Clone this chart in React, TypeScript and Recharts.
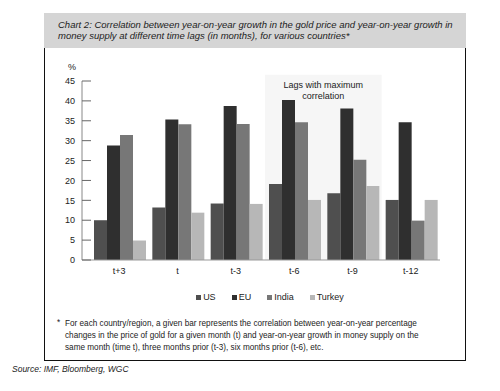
import React from "react";
import {
  BarChart,
  Bar,
  XAxis,
  YAxis,
  Legend,
  ReferenceArea,
} from "recharts";

// lags (months) shown on the x axis
const lags = ["t+3", "t", "t-3", "t-6", "t-9", "t-12"];

// correlation in %
const us = [10, 13.2, 14.2, 19.1, 16.8, 15.1];
const eu = [28.8, 35.3, 38.7, 40.2, 38.1, 34.6];
const india = [31.4, 34.1, 34.2, 34.6, 25.2, 9.9];
const turkey = [4.9, 11.9, 14.1, 15.1, 18.6, 15.1];

const yTicks = [0, 5, 10, 15, 20, 25, 30, 35, 40, 45];

const series = [
  { key: "US", values: us, color: "#4f4f4f" },
  { key: "EU", values: eu, color: "#2f2f2f" },
  { key: "India", values: india, color: "#777777" },
  { key: "Turkey", values: turkey, color: "#b7b7b7" },
];

const data = lags.map((lag, i) => ({
  lag,
  US: us[i],
  EU: eu[i],
  India: india[i],
  Turkey: turkey[i],
}));

const font = "'Liberation Sans', Arial, sans-serif";

function LegendRow() {
  return (
    <div style={{ display: "flex", justifyContent: "center", fontSize: 9, color: "#222", fontFamily: font }}>
      {series.map((s, i) => (
        <span key={s.key} style={{ display: "inline-flex", alignItems: "center", marginLeft: i ? 16 : 0 }}>
          <span style={{ width: 5, height: 5, background: s.color, marginRight: 2, display: "inline-block" }} />
          {s.key}
        </span>
      ))}
    </div>
  );
}

const AreaLabel = (props: any) => {
  const vb = props.viewBox;
  const cx = vb.x + vb.width / 2;
  return (
    <text x={cx} y={vb.y + 13} textAnchor="middle" fontSize={9} fill="#222" fontFamily={font}>
      <tspan x={cx}>Lags with maximum</tspan>
      <tspan x={cx} dy={11}>correlation</tspan>
    </text>
  );
};

export default function App() {
  return (
    <div style={{ position: "absolute", left: 0, top: 0, width: 500, height: 391, background: "#fff", fontFamily: font }}>
      {/* header */}
      <div
        style={{
          position: "absolute",
          left: 44,
          top: 13,
          width: 422,
          height: 35,
          background: "#d5d5d5",
          boxSizing: "border-box",
          padding: "6px 0 0 14px",
          fontStyle: "italic",
          fontSize: 9.5,
          lineHeight: "11px",
          color: "#222",
        }}
      >
        Chart 2: Correlation between year-on-year growth in the gold price and year-on-year growth in
        <br />
        money supply at different time lags (in months), for various countries*
      </div>
      {/* frame */}
      <div
        style={{
          position: "absolute",
          left: 44,
          top: 48,
          width: 422,
          height: 313,
          boxSizing: "border-box",
          borderLeft: "1px solid #111",
          borderRight: "1px solid #111",
          borderBottom: "1px solid #111",
        }}
      />
      <div style={{ position: "absolute", left: 68, top: 62, fontSize: 9, color: "#222" }}>%</div>
      <div style={{ position: "absolute", left: 44, top: 48 }}>
        <BarChart
          width={420}
          height={260}
          data={data}
          margin={{ top: 33, right: 24, bottom: 0, left: 0 }}
          barCategoryGap={4}
          barGap={0}
        >
          <ReferenceArea
            x1="t-6"
            x2="t-9"
            y1={0}
            y2={46.6}
            ifOverflow="visible"
            fill="#f6f6f6"
            fillOpacity={1}
            stroke="none"
            label={<AreaLabel />}
          />
          <XAxis
            dataKey="lag"
            tickLine={false}
            axisLine={{ stroke: "#999" }}
            padding={{ left: 8, right: 0 }}
            tick={{ fontSize: 9, fill: "#222", fontFamily: font }}
            height={48}
            interval={0}
          />
          <YAxis
            width={38}
            domain={[0, 45]}
            ticks={yTicks}
            interval={0}
            tickSize={-9}
            tickMargin={16}
            axisLine={{ stroke: "#888" }}
            tickLine={{ stroke: "#666" }}
            tick={{ fontSize: 9, fill: "#222", fontFamily: font }}
          />
          <Legend
            layout="horizontal"
            verticalAlign="middle"
            align="center"
            wrapperStyle={{ top: 244, left: 0, width: 452 }}
            content={() => <LegendRow />}
          />
          {series.map((s) => (
            <Bar key={s.key} dataKey={s.key} fill={s.color} isAnimationActive={false} />
          ))}
        </BarChart>
      </div>
      {/* footnote */}
      <div style={{ position: "absolute", left: 57, top: 318, fontSize: 8.2, color: "#222" }}>*</div>
      <div
        style={{
          position: "absolute",
          left: 65,
          top: 318,
          width: 395,
          fontSize: 8.2,
          lineHeight: "12px",
          color: "#222",
          whiteSpace: "nowrap",
        }}
      >
        For each country/region, a given bar represents the correlation between year-on-year percentage
        <br />
        changes in the price of gold for a given month (t) and year-on-year growth in money supply on the
        <br />
        same month (time t), three months prior (t-3), six months prior (t-6), etc.
      </div>
      <div style={{ position: "absolute", left: 12, top: 364, fontSize: 8.5, fontStyle: "italic", color: "#222" }}>
        Source: IMF, Bloomberg, WGC
      </div>
    </div>
  );
}
